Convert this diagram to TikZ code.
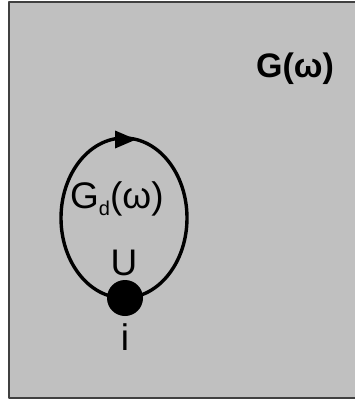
\documentclass[tikz,border=0pt]{standalone}
\usepackage{fontspec}
\setmainfont{Liberation Sans}
\definecolor{panel}{RGB}{192,192,192}
\begin{document}
\begin{tikzpicture}[x=1pt,y=-1pt,line join=round,font=\fontsize{37}{37}\selectfont]
	\def\rx{63}
	\def\ry{80}
	\useasboundingbox (0,0) rectangle (355,409);
	\path(9,2)coordinate(NW)
	(362,398)coordinate(SE)
	(124,218)coordinate(O)
	(125,298)coordinate(I)
	(136,139.5)coordinate(T);
	\draw[line width=2pt,draw=black!75,fill=panel] (NW) rectangle (SE);
	\draw[line width=3.4pt] (O) ellipse[x radius=\rx,y radius=\ry];
	% arrow head on the loop
	\fill (T) -- ++(-21,-9) -- ++(0,18) -- cycle;
	\node[circle,fill=black,minimum size=36pt,inner sep=0pt] (dot) at (I) {};
	\node[anchor=base,inner sep=0pt] (U) at (124,275) {U};
	\node[anchor=base,inner sep=0pt] (i) at (125,350) {i};
	\node[anchor=base west,inner sep=0pt] (Gd) at (70,208) {G\raisebox{-7pt}{\fontsize{20}{20}\selectfont d}(ω)};
	\node[anchor=base west,inner sep=0pt,font=\fontsize{34}{34}\selectfont\bfseries] (G) at (256,78) {G(ω)};
\end{tikzpicture}
\end{document}
